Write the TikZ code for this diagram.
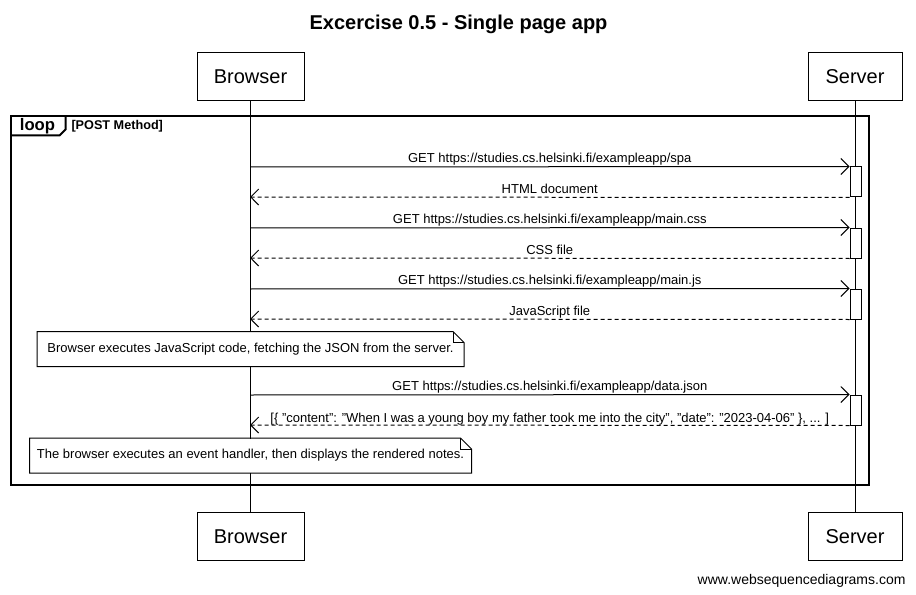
\documentclass[tikz,border=0pt]{standalone}
\usepackage{fontspec}
\setmainfont{Liberation Sans}
\usetikzlibrary{arrows.meta}
\newcommand{\sq}{\symbol{34}}
\begin{document}
\begin{tikzpicture}[x=0.75pt,y=-0.75pt,line width=0.75pt,
  part/.style={draw,inner sep=0pt,minimum height=36pt,font=\fontsize{15}{18}\selectfont},
  actbox/.style={draw,fill=white,inner sep=0pt,minimum width=8.25pt,minimum height=22.5pt},
  msg/.style={-{Straight Barb[length=6pt,width=12pt]}},
  ret/.style={msg,dash pattern=on 3pt off 2.25pt},
  lbl/.style={midway,anchor=base,yshift=3pt,inner sep=0pt,font=\fontsize{9.75}{11}\selectfont},
  notebox/.style={fill=white,inner sep=0pt,minimum height=25.5pt,font=\fontsize{9.75}{11}\selectfont},
  frame/.style={line width=1.5pt}]
\useasboundingbox (0,0) rectangle (916,595);
% title
\node[anchor=base,font=\bfseries\fontsize{15}{18}\selectfont] (title) at (458.5,29.5) {Excercise 0.5 - Single page app};
% participants
\node[part,minimum width=80.25pt] (bt) at (250.5,77) {Browser};
\node[part,minimum width=70.5pt] (st) at (855,77) {Server};
\node[part,minimum width=80.25pt] (bb) at (250.5,536.5) {Browser};
\node[part,minimum width=70.5pt] (sb) at (855,536.5) {Server};
\draw (bt.south) -- (bb.north);
\draw (st.south) -- (sb.north);
% loop frame
\draw[frame] (10.5,116) rectangle (869,484.5);
\draw[frame] (10.5,135.5) -- (59.5,135.5) -- (65.5,129.5) -- (65.5,116);
\node[anchor=base,font=\bfseries\fontsize{12.5}{14}\selectfont] (looplbl) at (37.5,131) {loop};
\node[anchor=base west,inner sep=0pt,font=\bfseries\fontsize{9.5}{11}\selectfont] (cond) at (71,129.5) {[POST Method]};
% activations
\node[actbox] (a1) at (855.5,182) {};
\node[actbox] (a2) at (855.5,243) {};
\node[actbox] (a3) at (855.5,304) {};
\node[actbox] (a4) at (855.5,410) {};
% lifeline points on browser
\coordinate (b1) at (250,167);
\coordinate (b2) at (250,197);
\coordinate (b3) at (250,228);
\coordinate (b4) at (250,258);
\coordinate (b5) at (250,289);
\coordinate (b6) at (250,319);
\coordinate (b7) at (250,395);
\coordinate (b8) at (250,425);
% messages
\draw[msg] (b1) -- (a1.north west) node[lbl] {GET https://studies.cs.helsinki.fi/exampleapp/spa};
\draw[ret] (a1.south west) -- (b2) node[lbl] {HTML document};
\draw[msg] (b3) -- (a2.north west) node[lbl] {GET https://studies.cs.helsinki.fi/exampleapp/main.css};
\draw[ret] (a2.south west) -- (b4) node[lbl] {CSS file};
\draw[msg] (b5) -- (a3.north west) node[lbl] {GET https://studies.cs.helsinki.fi/exampleapp/main.js};
\draw[ret] (a3.south west) -- (b6) node[lbl] {JavaScript file};
\draw[msg] (b7) -- (a4.north west) node[lbl] {GET https://studies.cs.helsinki.fi/exampleapp/data.json};
\draw[ret] (a4.south west) -- (b8) node[lbl,yshift=-0.75pt] {[\{ \sq content\sq: \sq When I was a young boy my father took me into the city\sq, \sq date\sq: \sq 2023-04-06\sq\ \}, ... ]};
% notes
\node[notebox,minimum width=319.5pt] (n1) at (250.5,349) {Browser executes JavaScript code, fetching the JSON from the server.};
\draw (n1.north west) -- ([xshift=-8.25pt]n1.north east) -- ([yshift=-8.25pt]n1.north east) -- (n1.south east) -- (n1.south west) -- cycle;
\draw ([xshift=-8.25pt]n1.north east) -- ([xshift=-8.25pt,yshift=-8.25pt]n1.north east) -- ([yshift=-8.25pt]n1.north east);
\node[notebox,minimum width=330.75pt] (n2) at (250.5,455.5) {The browser executes an event handler, then displays the rendered notes.};
\draw (n2.north west) -- ([xshift=-8.25pt]n2.north east) -- ([yshift=-8.25pt]n2.north east) -- (n2.south east) -- (n2.south west) -- cycle;
\draw ([xshift=-8.25pt]n2.north east) -- ([xshift=-8.25pt,yshift=-8.25pt]n2.north east) -- ([yshift=-8.25pt]n2.north east);
% footer
\node[anchor=base east,inner sep=0pt,font=\fontsize{10.5}{12}\selectfont] (footer) at (906,584) {www.websequencediagrams.com};
\end{tikzpicture}
\end{document}
